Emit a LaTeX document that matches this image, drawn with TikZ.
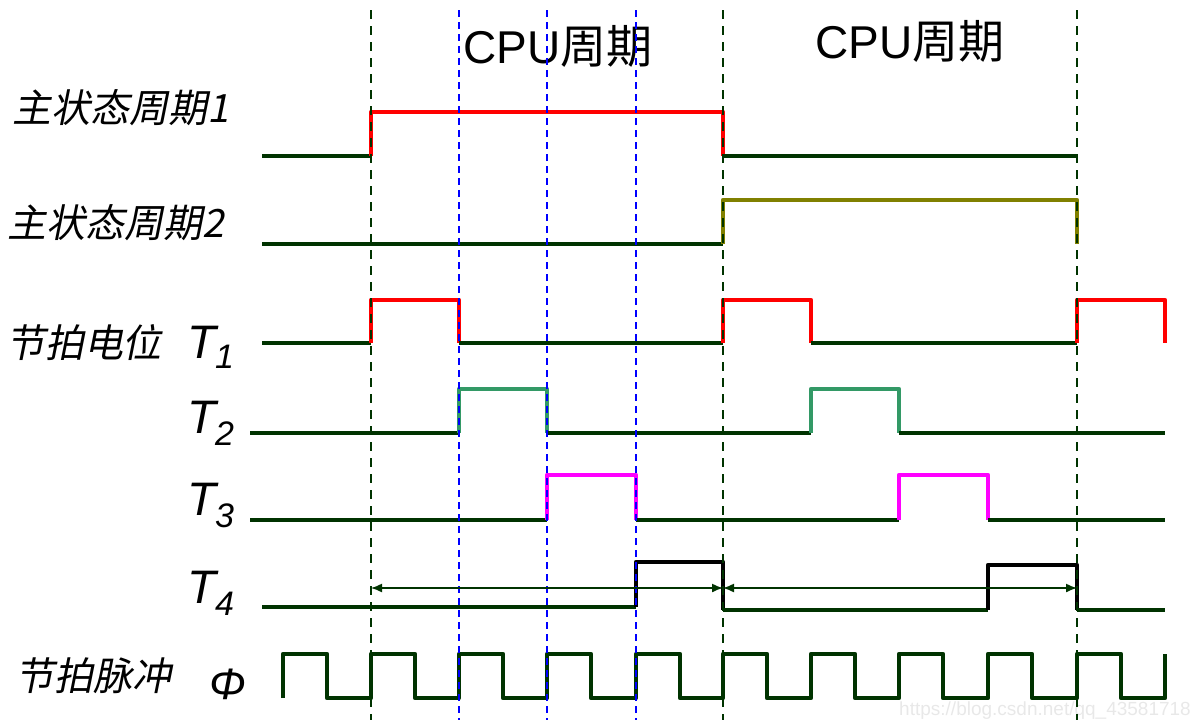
\documentclass[tikz,border=0pt]{standalone}
\usepackage{fontspec}
\setmainfont{Liberation Sans}
\newfontfamily\cjk{Noto Sans CJK SC}
\newfontfamily\cjkit[FakeSlant=0.2]{Noto Sans CJK SC}
\usetikzlibrary{arrows.meta}
\definecolor{dkgreen}{RGB}{0,51,0}
\definecolor{sigred}{RGB}{255,0,0}
\definecolor{olivey}{RGB}{128,128,0}
\definecolor{seag}{RGB}{51,153,102}
\definecolor{magen}{RGB}{255,0,255}
\definecolor{vblue}{RGB}{0,0,255}
\definecolor{wmark}{RGB}{232,232,232}
\tikzset{
  sig/.style={line width=4.6pt, line join=round},
  low/.style={sig, draw=dkgreen},
  gridg/.style={draw=dkgreen, line width=1.9pt, dash pattern=on 9pt off 7pt},
  gridb/.style={draw=vblue, line width=1.9pt, dash pattern=on 7pt off 5pt},
  span/.style={draw=dkgreen, line width=1.4pt, {Latex[length=11pt,width=9pt]}-{Latex[length=11pt,width=9pt]}},
  lab/.style={inner sep=0pt, font=\cjkit\fontsize{39}{42}\selectfont},
  tlab/.style={inner sep=0pt, font=\itshape\fontsize{47}{50}\selectfont},
  tsub/.style={inner sep=0pt, font=\itshape\fontsize{34}{38}\selectfont},
  cpu/.style={inner sep=0pt, font=\fontsize{46}{50}\selectfont}
}
\begin{document}
\begin{tikzpicture}[x=1pt,y=-1pt]
\useasboundingbox (0,0) rectangle (1195,724);
% labels
\node[lab, anchor=center] (m1) at (121,108) {主状态周期1};
\node[lab, anchor=center] (m2) at (116,223) {主状态周期2};
\node[lab, anchor=center] (jp) at (84,343) {节拍电位};
\node[lab, anchor=center] (mc) at (94,676) {节拍脉冲};
\node[tlab, anchor=base west] (t1) at (187,358) {T};
\node[tsub, anchor=base west] (s1) at (215,368) {1};
\node[tlab, anchor=base west] (t2) at (187,433) {T};
\node[tsub, anchor=base west] (s2) at (215,445) {2};
\node[tlab, anchor=base west] (t3) at (187,515) {T};
\node[tsub, anchor=base west] (s3) at (215,527) {3};
\node[tlab, anchor=base west] (t4) at (187,603) {T};
\node[tsub, anchor=base west] (s4) at (215,615) {4};
\node[inner sep=0pt, anchor=base west, font=\itshape\fontsize{44}{46}\selectfont] (phi) at (209,699) {Φ};
\node[cpu, anchor=base west] (c1) at (463,63) {CPU{\cjk 周期}};
\node[cpu, anchor=base west] (c2) at (815,58) {CPU{\cjk 周期}};
\node[inner sep=0pt, anchor=east, text=wmark, font=\fontsize{19}{21}\selectfont] (wm) at (1191,711) {https://blog.csdn.net/qq\_43581718};
% main state 1
\draw[low] (262,156) -- (371,156);
\draw[sig, sigred] (371,156) -- (371,112) -- (723,112) -- (723,156);
\draw[low] (723,156) -- (1077,156);
% main state 2
\draw[low] (262,244) -- (723,244);
\draw[sig, olivey] (723,244) -- (723,200) -- (1077,200) -- (1077,244);
% T1
\draw[low] (262,343) -- (371,343);
\draw[sig, sigred] (371,343) -- (371,300) -- (459,300) -- (459,343);
\draw[low] (459,343) -- (723,343);
\draw[sig, sigred] (723,343) -- (723,300) -- (811,300) -- (811,343);
\draw[low] (811,343) -- (1077,343);
\draw[sig, sigred] (1077,343) -- (1077,300) -- (1165,300) -- (1165,343);
% T2
\draw[low] (250,433) -- (459,433);
\draw[sig, seag] (459,433) -- (459,389) -- (547,389) -- (547,433);
\draw[low] (547,433) -- (811,433);
\draw[sig, seag] (811,433) -- (811,389) -- (899,389) -- (899,433);
\draw[low] (899,433) -- (1165,433);
% T3
\draw[low] (250,520) -- (547,520);
\draw[sig, magen] (547,520) -- (547,475) -- (636,475) -- (636,520);
\draw[low] (636,520) -- (899,520);
\draw[sig, magen] (899,520) -- (899,475) -- (988,475) -- (988,520);
\draw[low] (988,520) -- (1165,520);
% T4
\draw[low] (262,607) -- (636,607);
\draw[sig, black] (636,607) -- (636,562) -- (723,562) -- (723,610);
\draw[low] (723,610) -- (988,610);
\draw[sig, black] (988,610) -- (988,565) -- (1077,565) -- (1077,610);
\draw[low] (1077,610) -- (1165,610);
% clock
\draw[low] (283,698)
  \foreach \r in {283,371,459,547,636,723,811,899,988,1077} {
    -- (\r,698) -- (\r,654) -- (\r+44,654) -- (\r+44,698)
  } -- (1165,698) -- (1165,654);
% grid lines
\foreach \x in {371,723,1077} \draw[gridg] (\x,10) -- (\x,720);
\foreach \x in {459,547,636} \draw[gridb] (\x,10) -- (\x,720);
% spans
\coordinate (a1) at (371,588);
\coordinate (a2) at (723,588);
\coordinate (a3) at (1077,588);
\draw[span] (a1) -- (a2);
\draw[span] (a2) -- (a3);
\end{tikzpicture}
\end{document}
